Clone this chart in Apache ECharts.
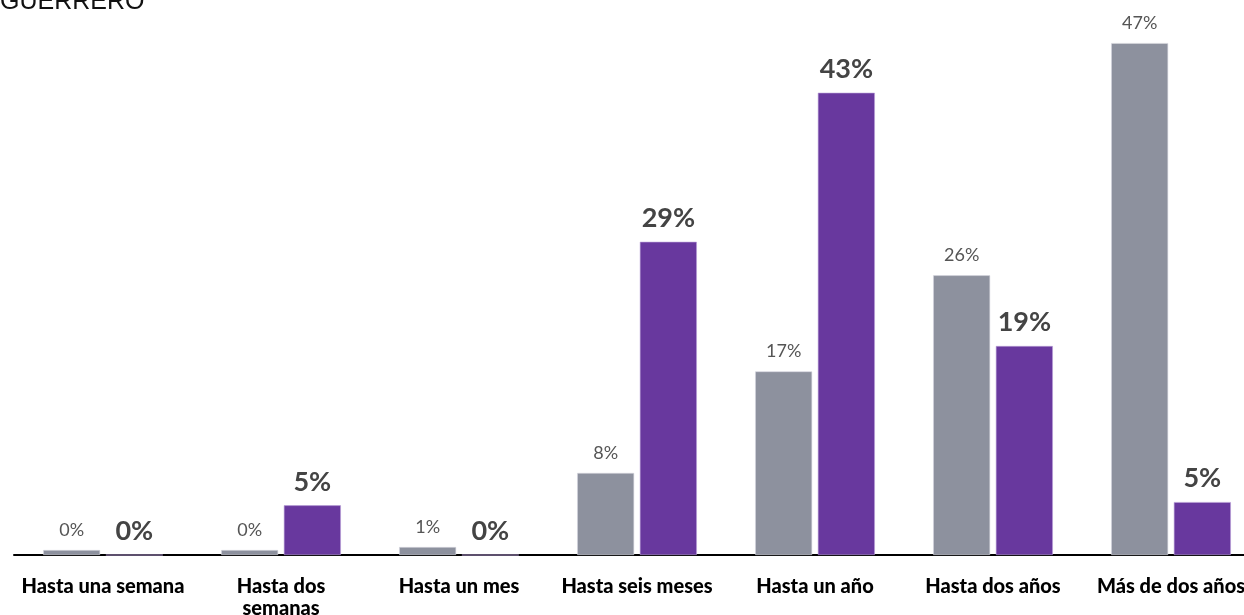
<!DOCTYPE html>
<html>
<head>
<meta charset="utf-8">
<script src="https://cdn.jsdelivr.net/npm/echarts@6/dist/echarts.min.js"></script>
<style>
html,body{margin:0;padding:0;background:#fff;}
#chart{width:1244px;height:615px;}
</style>
</head>
<body>
<div id="chart"></div>
<script>
const titleText = 'GUERRERO';
const categories = ['Hasta una semana', 'Hasta dos\nsemanas', 'Hasta un mes', 'Hasta seis meses', 'Hasta un año', 'Hasta dos años', 'Más de dos años'];
const grayValues = [0.46, 0.46, 0.74, 7.6, 17.0, 25.9, 47.4];
const purpleValues = [0, 4.6, 0, 29.0, 42.8, 19.35, 4.9];
const pct = p => Math.round(p.value) + '%';

const chart = echarts.init(document.getElementById('chart'));
chart.setOption({
  animation: false,
  backgroundColor: '#ffffff',
  graphic: [{
    type: 'text', left: 0, top: -10,
    style: { text: titleText, font: '25px "Liberation Sans", Arial, sans-serif', fill: '#111' }
  }],
  grid: { left: 14, width: 1246, top: 15, bottom: 60, containLabel: false, outerBoundsMode: 'none' },
  xAxis: {
    type: 'category',
    data: categories,
    axisLine: { lineStyle: { color: '#000', width: 2 } },
    axisTick: { show: false },
    axisLabel: {
      interval: 0, margin: 21, color: '#000',
      fontFamily: 'Lato', fontWeight: 900, fontSize: 20, lineHeight: 22
    }
  },
  yAxis: { type: 'value', min: 0, max: 50, show: false, splitLine: { show: false } },
  series: [{
    type: 'bar', data: grayValues, barWidth: 57, barGap: '10%',
    itemStyle: { color: '#8d919e', borderColor: '#d8d9e0', borderWidth: 0.6 },
    label: { show: true, position: 'top', distance: 11, formatter: pct,
      fontFamily: 'Lato', fontSize: 18, color: '#555', fontWeight: 'normal' }
  }, {
    type: 'bar', data: purpleValues, barWidth: 57,
    itemStyle: { color: '#68389e', borderColor: '#b9a0d6', borderWidth: 0.6 },
    label: { show: true, position: 'top', distance: 10, formatter: pct,
      fontFamily: 'Lato', fontSize: 27, color: '#444', fontWeight: 'bold' }
  }]
});
</script>
</body>
</html>
